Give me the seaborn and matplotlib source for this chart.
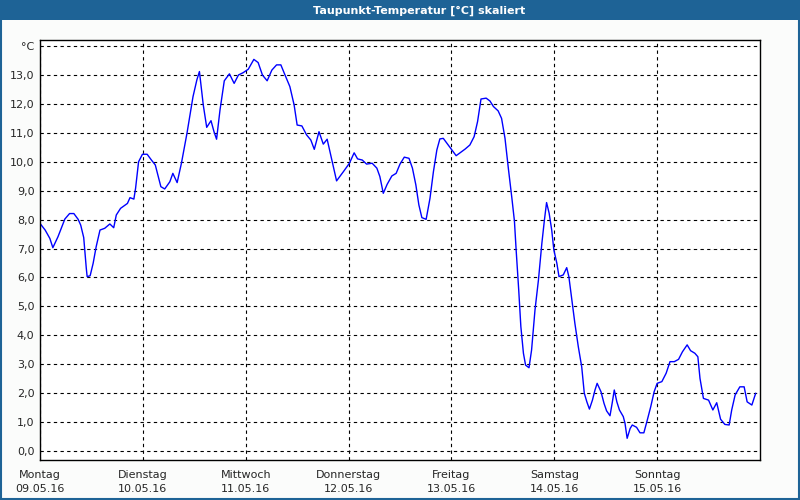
"""
Taupunkt-Temperatur Wochenverlauf
"""

import matplotlib
matplotlib.use('Agg')
import matplotlib.pyplot as plt
from matplotlib.patches import Rectangle
import seaborn as sns
import pandas as pd


# Stunden seit Montag 00:00
hours = [
    0.0, 1.2, 2.3, 3.0, 4.2, 5.8, 6.9, 7.9, 8.9, 9.5, 10.2, 10.8, 11.0, 11.7,
    12.4, 13.1, 14.0, 15.1, 16.3, 17.2, 17.8, 18.8, 19.9, 20.4, 21.0, 21.9,
    22.3, 23.0, 23.9, 25.0, 26.0, 26.9, 27.5, 28.2, 29.1, 30.3, 31.0, 32.0,
    33.0, 34.3, 35.7, 36.6, 37.2, 38.1, 38.9, 39.9, 40.6, 41.2, 42.0, 43.0,
    44.2, 45.3, 46.3, 47.4, 48.6, 49.9, 50.9, 51.9, 53.0, 54.1, 55.2, 56.2,
    57.0, 58.3, 59.3, 60.0, 61.1, 62.2, 63.2, 64.0, 65.1, 66.1, 67.0, 68.1,
    69.2, 70.8, 72.2, 73.3, 74.1, 75.2, 76.2, 77.5, 78.6, 79.3, 80.1, 81.0,
    82.1, 83.1, 84.0, 85.0, 86.1, 86.9, 87.7, 88.4, 89.1, 90.1, 91.0, 91.8,
    92.6, 93.3, 94.1, 95.1, 96.1, 97.1, 98.2, 99.2, 100.3, 101.3, 102.1,
    102.9, 104.1, 105.0, 105.8, 106.9, 107.7, 108.5, 109.3, 110.1, 110.7,
    111.1, 111.7, 112.2, 112.8, 113.3, 114.1, 114.7, 115.5, 116.3, 117.1,
    117.7, 118.2, 118.8, 119.4, 119.9, 120.6, 121.1, 122.1, 122.9, 123.4,
    124.1, 124.8, 125.6, 126.4, 127.0, 127.6, 128.2, 128.9, 129.5, 130.0,
    130.9, 131.6, 132.2, 133.0, 133.5, 134.0, 134.6, 135.2, 136.1, 136.5,
    137.0, 137.7, 138.2, 139.2, 140.0, 140.9, 141.7, 142.5, 143.3, 144.0,
    145.1, 146.1, 147.0, 148.0, 149.0, 149.9, 151.0, 151.8, 152.8, 153.5,
    154.0, 154.8, 156.0, 157.0, 157.9, 158.8, 159.8, 160.8, 161.4, 162.2,
    163.3, 164.3, 165.0, 166.1, 167.0,
]

dewpoint = [
    7.87, 7.64, 7.35, 7.03, 7.41, 8.02, 8.21, 8.21, 8.01, 7.81, 7.38, 6.32, 6.03, 6.06,
    6.49, 7.06, 7.64, 7.70, 7.85, 7.72, 8.16, 8.39, 8.51, 8.56, 8.76, 8.71,
    9.08, 10.00, 10.26, 10.26, 10.06, 9.89, 9.54, 9.14, 9.06, 9.31, 9.60, 9.28,
    9.95, 10.99, 12.25, 12.83, 13.12, 11.96, 11.19, 11.42, 11.04, 10.78, 11.79, 12.80,
    13.04, 12.71, 13.00, 13.08, 13.20, 13.54, 13.43, 13.00, 12.80, 13.17, 13.35, 13.35,
    13.06, 12.60, 11.96, 11.27, 11.24, 10.93, 10.75, 10.43, 11.04, 10.61, 10.78, 10.06,
    9.34, 9.66, 9.95, 10.31, 10.10, 10.06, 9.92, 9.95, 9.78, 9.49, 8.91, 9.22,
    9.51, 9.60, 9.92, 10.16, 10.12, 9.78, 9.20, 8.51, 8.07, 8.01, 8.74, 9.66,
    10.41, 10.79, 10.81, 10.61, 10.41, 10.21, 10.33, 10.44, 10.58, 10.87, 11.39,
    12.17, 12.20, 12.10, 11.91, 11.76, 11.50, 10.81, 9.75, 8.75, 7.95,
    6.95, 5.57, 4.30, 3.38, 2.97, 2.88, 3.49, 4.88, 5.91, 7.18,
    7.99, 8.59, 8.22, 7.64, 6.95, 6.49, 6.03, 6.09, 6.34, 6.03,
    5.22, 4.42, 3.61, 2.91, 2.00, 1.70, 1.45, 1.76, 2.11, 2.34,
    2.05, 1.65, 1.39, 1.22, 1.65, 2.11, 1.70, 1.42, 1.19, 0.96,
    0.44, 0.78, 0.90, 0.82, 0.63, 0.63, 1.07, 1.53, 2.05, 2.34,
    2.40, 2.69, 3.09, 3.09, 3.17, 3.43, 3.67, 3.47, 3.38, 3.26,
    2.51, 1.82, 1.76, 1.42, 1.67, 1.10, 0.92, 0.90, 1.42, 1.94,
    2.22, 2.22, 1.70, 1.59, 2.00,
]

day_names = ['Montag', 'Dienstag', 'Mittwoch', 'Donnerstag', 'Freitag', 'Samstag', 'Sonntag']
day_dates = ['09.05.16', '10.05.16', '11.05.16', '12.05.16', '13.05.16', '14.05.16', '15.05.16']
y_ticks = list(range(0, 15))

title_text = 'Taupunkt-Temperatur [°C] skaliert'
frame_blue = '#1e6396'


def main():
    df = pd.DataFrame({'Stunde': hours, 'Taupunkt': dewpoint})

    sns.set_style('white')
    plt.rcParams['font.family'] = ['DejaVu Sans']

    fig = plt.figure(figsize=(8, 5), dpi=100, facecolor='#fbfcfb')
    ax = fig.add_axes([0.05, 0.08, 0.90, 0.84])
    ax.set_facecolor('white')

    sns.lineplot(data=df, x='Stunde', y='Taupunkt', ax=ax,
                 color='#0000ff', linewidth=1.0, estimator=None, sort=False)

    ax.set_xlim(0, 168)
    ax.set_ylim(-0.31, 14.21)

    # Achsen / Gitter
    ax.set_xticks([24 * i for i in range(len(day_names))])
    ax.set_xticklabels([f'{n}\n{d}' for n, d in zip(day_names, day_dates)],
                       fontsize=8, linespacing=1.5)
    ax.set_yticks(y_ticks)
    ax.set_yticklabels([f'{v},0' for v in y_ticks[:-1]] + ['°C'], fontsize=8)
    ax.tick_params(axis='y', length=0, pad=4)
    ax.tick_params(axis='x', length=3, width=0.8, color='black', pad=4)
    ax.grid(True, color='black', linestyle=(0, (3, 3)), linewidth=0.8)
    for spine in ax.spines.values():
        spine.set_visible(True)
        spine.set_color('black')
        spine.set_linewidth(1.0)
    ax.set_xlabel('')
    ax.set_ylabel('')

    # Titelleiste und Rahmen
    fig.patches.append(Rectangle((0, 0.96), 1, 0.04, transform=fig.transFigure,
                                 facecolor=frame_blue, edgecolor='none', zorder=0))
    fig.patches.append(Rectangle((0.001, 0.002), 0.998, 0.997, transform=fig.transFigure,
                                 facecolor='none', edgecolor=frame_blue, linewidth=1.5, zorder=0))
    fig.text(0.524, 0.979, title_text, color='white', fontsize=8, fontweight='bold',
             ha='center', va='center')

    fig.savefig('out.png', dpi=100)
    plt.close(fig)


if __name__ == "__main__":
    main()
